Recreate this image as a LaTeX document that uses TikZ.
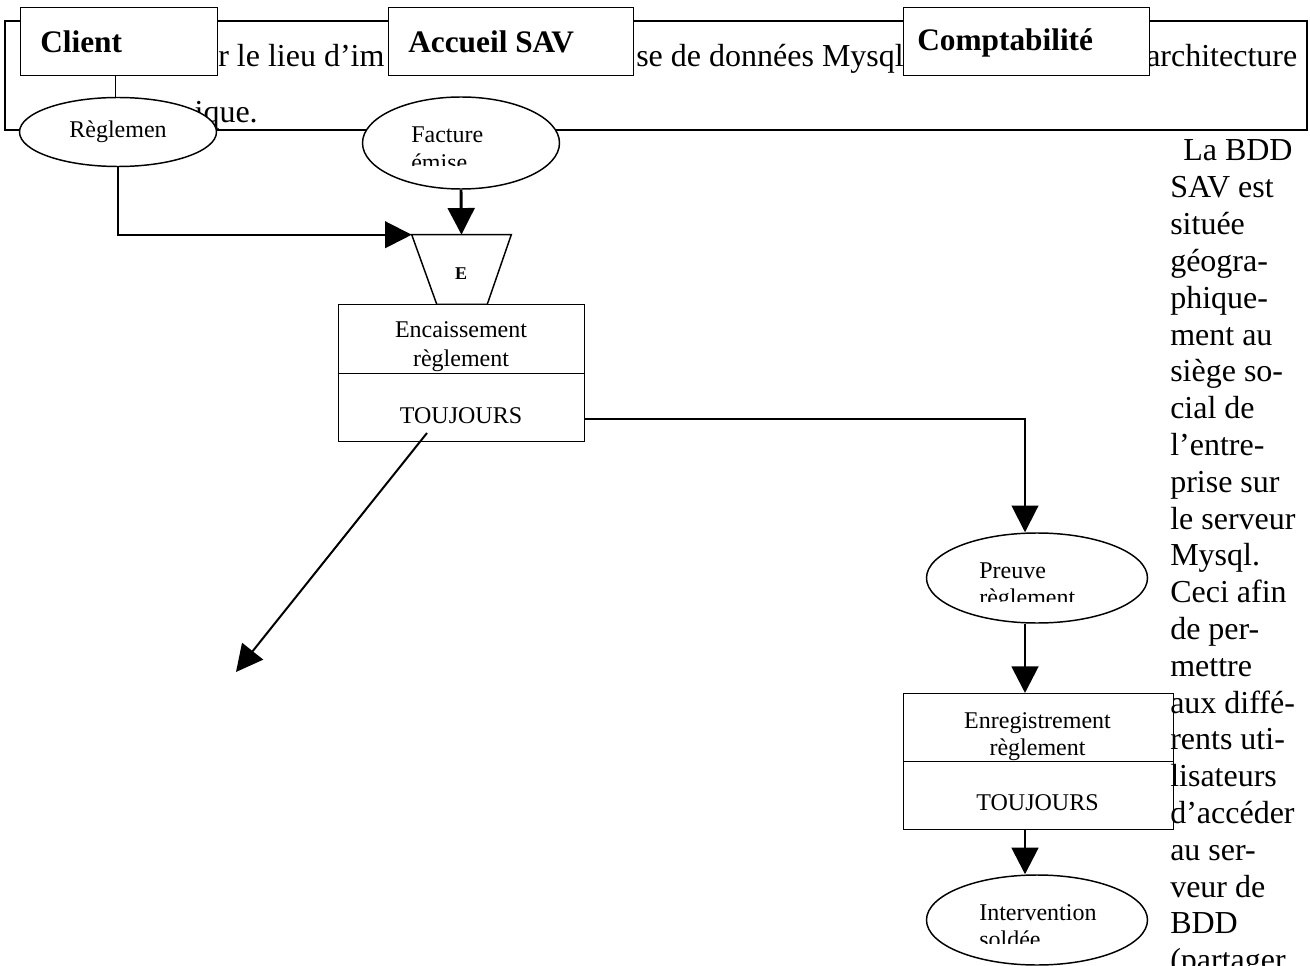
\documentclass[tikz,border=0pt]{standalone}
\usepackage{fontspec}
\setmainfont{Liberation Serif}
\usepackage{tikz}
\usetikzlibrary{shapes.geometric, arrows.meta, calc}

\tikzset{
  lane/.style={draw, fill=white, line width=1.1pt, anchor=north west, minimum height=51pt, inner sep=0pt},
  lanetext/.style={anchor=base west, inner sep=0pt, font=\fontsize{23.5}{28}\selectfont\bfseries},
  event/.style={ellipse, draw, fill=white, line width=1.1pt, inner sep=0pt},
  task/.style={rectangle, draw, fill=white, line width=1.1pt, anchor=north west, inner sep=0pt},
  small/.style={font=\fontsize{18}{20.7}\selectfont, inner sep=0pt},
  body/.style={font=\fontsize{24}{27.6}\selectfont, inner sep=0pt},
  flow/.style={line width=1.5pt, -{Triangle[length=20pt, width=20pt]}},
}

\begin{document}
\begin{tikzpicture}[x=0.75pt, y=-0.75pt]
    \useasboundingbox (0,0) rectangle (1310,966);
    % Cadre du texte
    \draw[line width=1.1pt] (5,21) rectangle (1307,130);
    \node[body, anchor=base west] (txtA) at (218,67) {r le lieu d’im};
    \node[body, anchor=base west] (txtB) at (636,67) {se de données Mysql};
    \node[body, anchor=base west] (txtC) at (1146,67) {architecture};
    \node[body, anchor=base east] (txtD) at (258,123) {ique.};
    % Acteurs
    \node[lane, minimum width=147.75pt] (client) at (20,7) {};
    \node[lane, minimum width=183.75pt] (accueil) at (388,7) {};
    \node[lane, minimum width=184.5pt] (compta) at (903,7) {};
    \node[lanetext] (clientL) at (40,53) {Client};
    \node[lanetext] (accueilL) at (408,53) {Accueil SAV};
    \node[lanetext] (comptaL) at (917,51) {Comptabilité};
    % Evenements
    \node[event, small, minimum width=147.75pt, minimum height=51.75pt] (regl) at (118,132) {Règlemen};
    \node[event, minimum width=147.75pt, minimum height=69pt] (fact) at (461,143) {};
    \begin{scope}
        \clip (363,97) rectangle (560,166);
        \node[small, anchor=base west] (factA) at (411,143) {Facture};
        \node[small, anchor=base west] (factB) at (411,170.6) {émise};
    \end{scope}
    \draw[line width=1.1pt] ([xshift=-3pt]client.south) -- ([xshift=-3pt]client.south |- regl.north);
    % Synchronisation
    \node[minimum width=74.25pt, minimum height=51.75pt, inner sep=0pt] (ent) at (461.5,269.5) {};
    \draw[line width=1.1pt] (ent.north west) -- (ent.north east) -- ($(ent.south east)+(-24,0)$)
        -- ($(ent.south west)+(25,0)$) -- cycle;
    \node[anchor=base, inner sep=0pt, font=\fontsize{13.5}{16}\selectfont\bfseries] (entL) at (461,280) {E};
    \draw[flow] (regl.south) |- (ent.north west);
    \draw[flow, line width=2.2pt] (fact.south) -- (ent.north);
    % Operation encaissement
    \node[task, minimum width=184.5pt, minimum height=51.75pt] (encH) at (338,304) {};
    \node[task, minimum width=184.5pt, minimum height=51pt] (encB) at (338,373) {};
    \node[small, anchor=base] (encA) at (461,338) {Encaissement};
    \node[small, anchor=base] (encC) at (461,366) {règlement};
    \node[small, anchor=base] (encT) at (461,423) {TOUJOURS};
    \coordinate (dA) at (427,433);
    \coordinate (dB) at (236,672);
    \draw[flow] (dA) -- (dB);
    % Preuve
    \coordinate (axe) at (1025,0);
    \node[event, minimum width=165.75pt, minimum height=67.5pt] (preuve) at (1037,578) {};
    \begin{scope}
        \clip (927,533) rectangle (1148,601);
        \node[small, anchor=base west] (preA) at (979,578) {Preuve};
        \node[small, anchor=base west] (preB) at (979,605.6) {règlement};
    \end{scope}
    \draw[flow] ([yshift=-8.25pt]encB.east) -| (axe |- preuve.north);
    % Operation enregistrement
    \node[task, minimum width=202.5pt, minimum height=51pt] (enrH) at (903,693) {};
    \node[task, minimum width=202.5pt, minimum height=51pt] (enrB) at (903,761) {};
    \node[small, anchor=base] (enrA) at (1037.5,728) {Enregistrement};
    \node[small, anchor=base] (enrC) at (1037.5,755) {règlement};
    \node[small, anchor=base] (enrT) at (1037.5,810) {TOUJOURS};
    \draw[flow, line width=2.2pt] (axe |- preuve.south) -- (axe |- enrH.north);
    % Fin
    \node[event, minimum width=165.75pt, minimum height=67.5pt] (interv) at (1037,920) {};
    \begin{scope}
        \clip (927,875) rectangle (1148,943);
        \node[small, anchor=base west] (intA) at (979,920) {Intervention};
        \node[small, anchor=base west] (intB) at (979,947.6) {soldée};
    \end{scope}
    \draw[flow, line width=2.2pt] (axe |- enrB.south) -- (axe |- interv.north);
    % Colonne de texte
    \foreach \ligne [count=\i from 0] in {{\hspace*{9.75pt}La BDD}, {SAV est}, {située}, {géogra-},
        {phique-}, {ment au}, {siège so-}, {cial de}, {l’entre-}, {prise sur}, {le serveur},
        {Mysql.}, {Ceci afin}, {de per-}, {mettre}, {aux diffé-}, {rents uti-}, {lisateurs},
        {d’accéder}, {au ser-}, {veur de}, {BDD}, {(partager}}
        \node[body, anchor=base west] (col\i) at (1170,{161+36.8*\i}) {\ligne};
\end{tikzpicture}
\end{document}
